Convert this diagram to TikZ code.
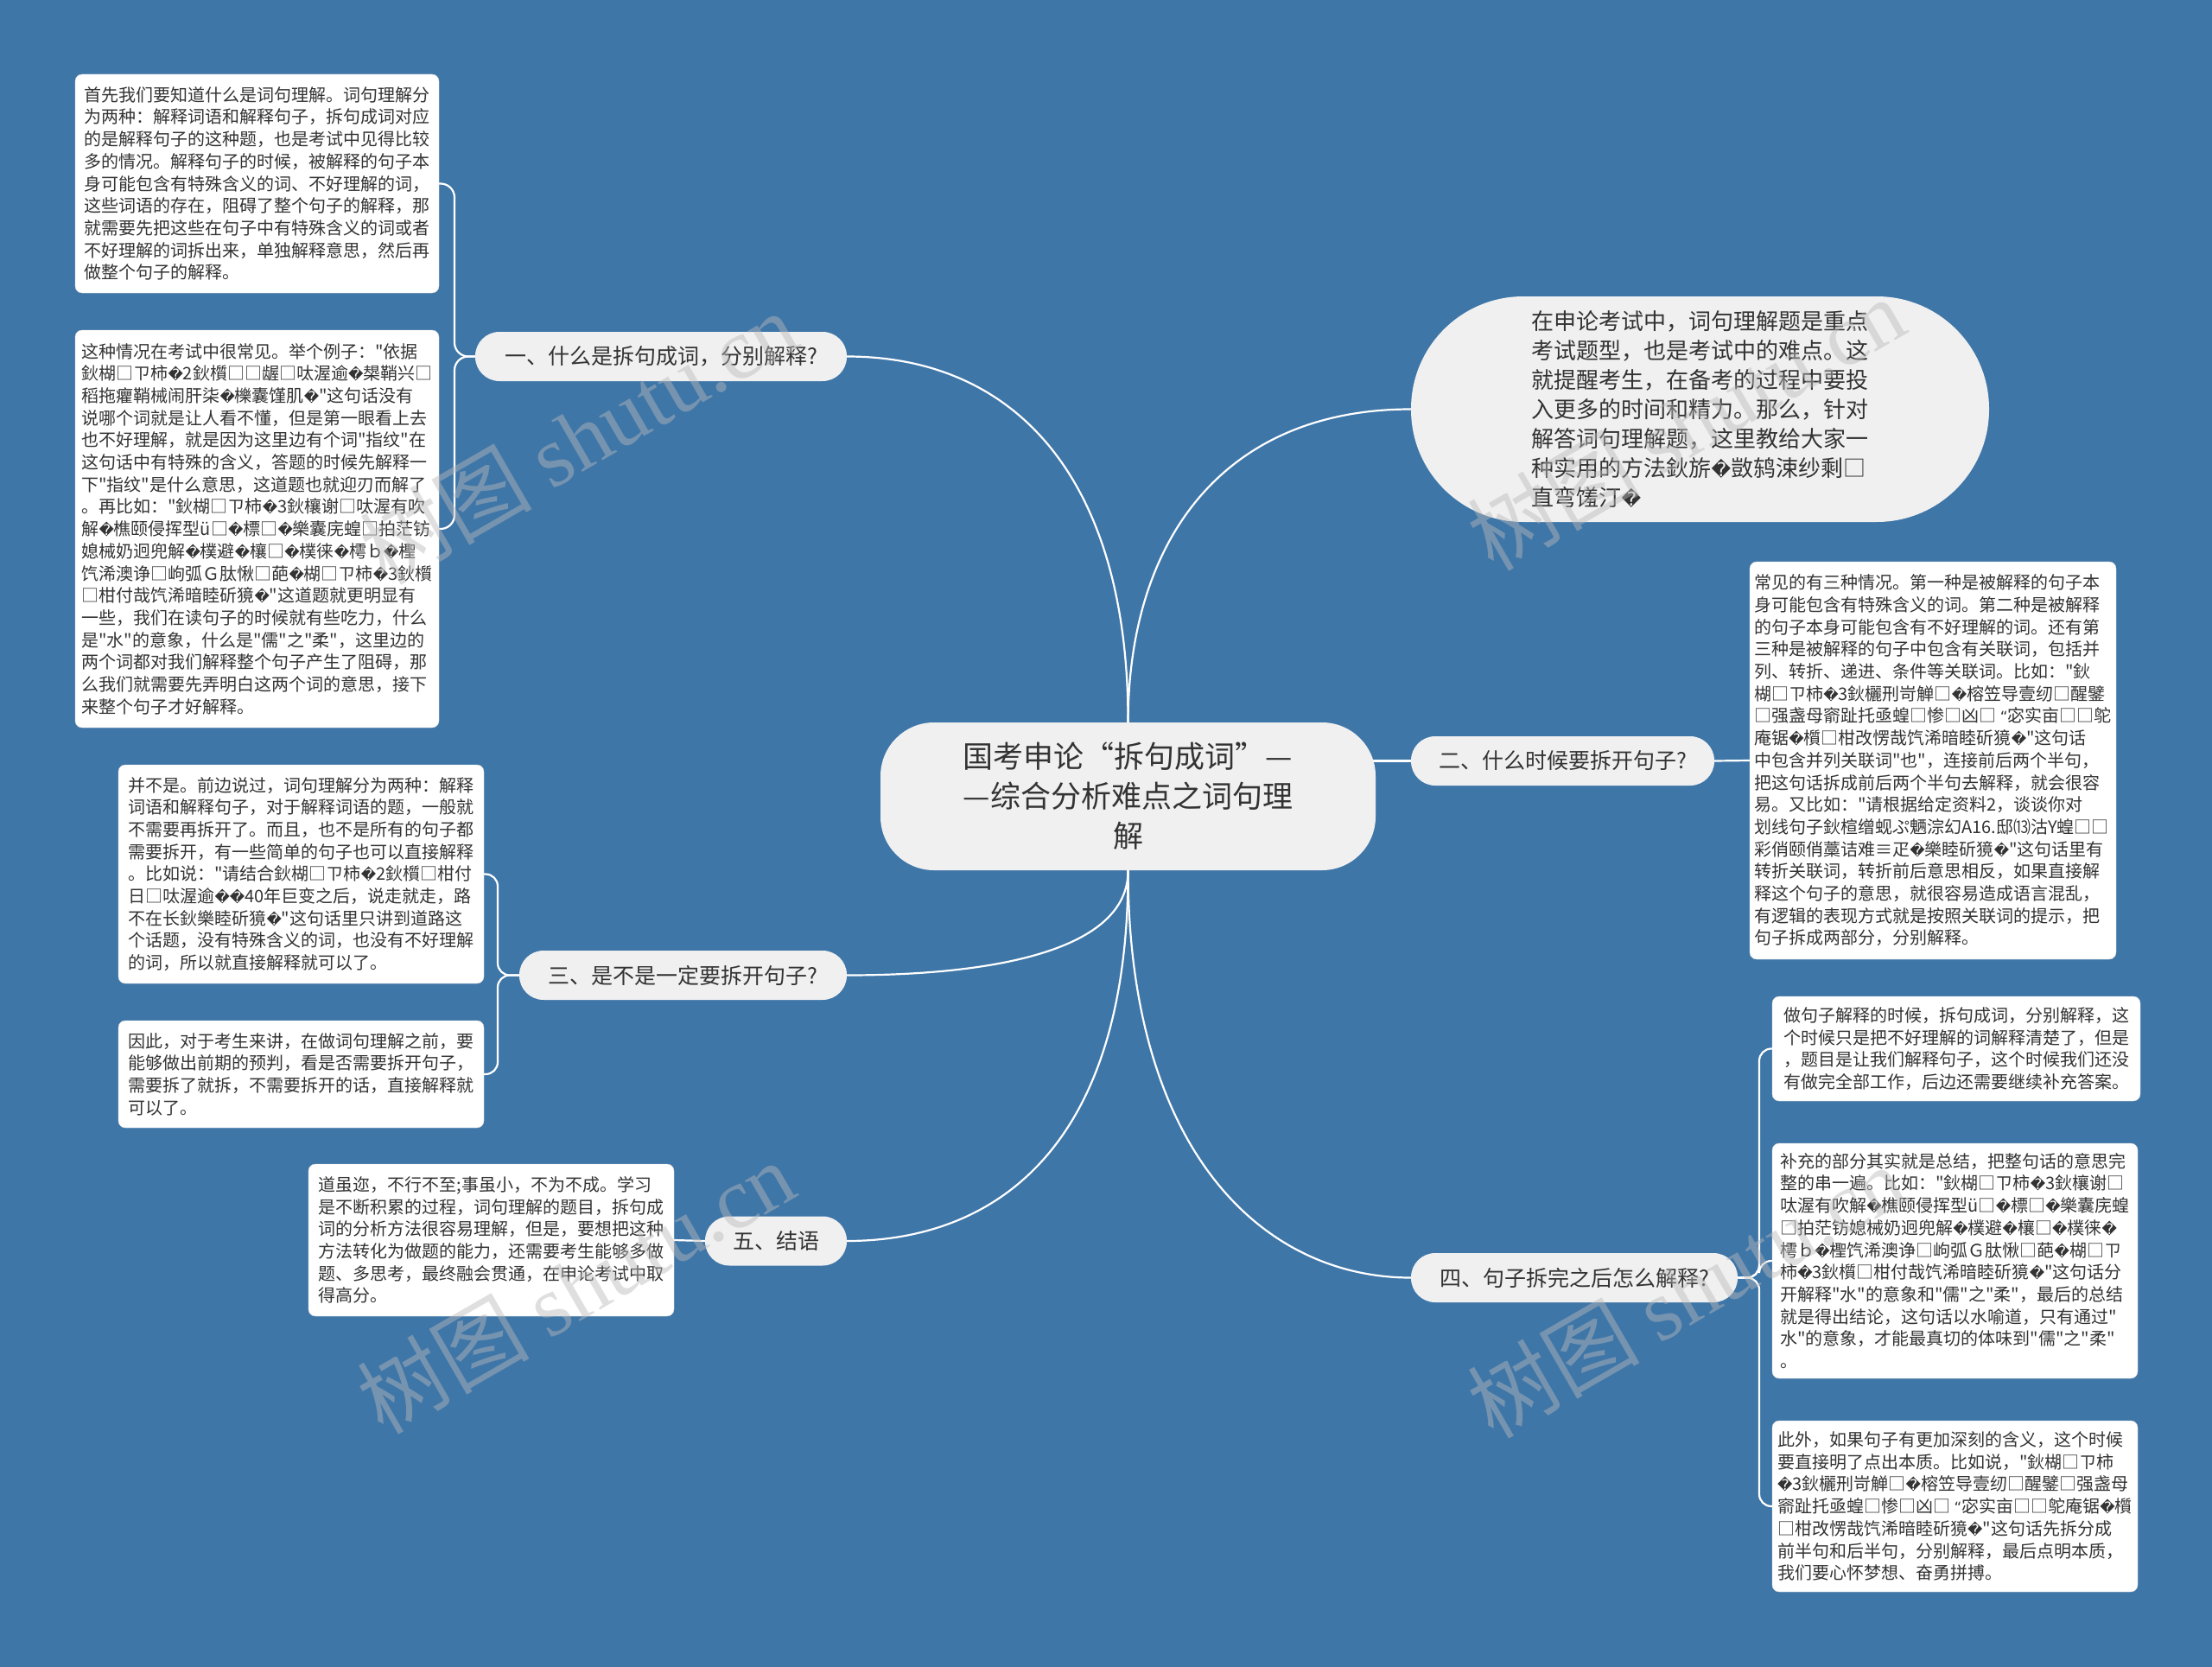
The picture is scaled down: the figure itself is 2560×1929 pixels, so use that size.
\documentclass[tikz,border=0pt]{standalone}
\usepackage{fontspec}
\newfontfamily\cjkfont{Noto Sans CJK SC}
\newfontfamily\dejavu{DejaVu Sans}[Scale=0.85]
\newfontfamily\wmfont{Liberation Serif}
\newcommand\uq{{\dejavu\symbol{"FFFD}}}
\newcommand\openq{{\dejavu “}}
\definecolor{bgblue}{HTML}{3F76A8}
\definecolor{pillgray}{HTML}{F0F0F0}
\definecolor{txt}{HTML}{333333}
\pgfdeclarelayer{back}
\pgfdeclarelayer{lines}
\pgfsetlayers{back,lines,main}
\tikzset{
  leaf/.style={draw=black!15, fill=white, rounded corners=8, align=left, text=txt,
    font=\cjkfont\fontsize{20}{25.7}\selectfont, inner sep=0pt},
  pill/.style={fill=pillgray, rounded corners=28, text=txt,
    font=\cjkfont\fontsize{25}{30}\selectfont, inner sep=0pt, minimum height=57},
  conn/.style={draw=white, line width=2.2pt},
  wm/.style={text=gray!55!white, opacity=0.45, font=\cjkfont\fontsize{100}{110}\selectfont, inner sep=0pt}
}
\begin{document}
\begin{tikzpicture}[x=1pt,y=-1pt]
\begin{pgfonlayer}{back}
\fill[bgblue] (0,0) rectangle (2560,1929);
\end{pgfonlayer}
\useasboundingbox (0,0) rectangle (2560,1929);

% centre
\node[fill=pillgray, rounded corners=62, minimum width=573, minimum height=171, align=center,
  text=txt, font=\cjkfont\fontsize{35}{46}\selectfont, inner sep=0pt] (C) at (1305.5,921.5)
  {国考申论“拆句成词”—\\—综合分析难点之词句理\\解};

% top-right intro
\node[fill=pillgray, rounded corners=130, minimum width=669, minimum height=261, align=left,
  text=txt, font=\cjkfont\fontsize{26}{34}\selectfont, inner sep=0pt] (E) at (1967.5,473.5)
  {在申论考试中，词句理解题是重点\\
考试题型，也是考试中的难点。这\\
就提醒考生，在备考的过程中要投\\
入更多的时间和精力。那么，针对\\
解答词句理解题，这里教给大家一\\
种实用的方法鈥旂\uq{}敳鸫涑纱剩□\\
直弯馐汀\uq{}};

% branches
\node[pill, minimum width=430] (B1) at (765,412.5) {一、什么是拆句成词，分别解释?};
\node[pill, minimum width=351] (B2) at (1808.5,880.5) {二、什么时候要拆开句子?};
\node[pill, minimum width=379] (B3) at (790.5,1128.5) {三、是不是一定要拆开句子?};
\node[pill, minimum width=378] (B4) at (1822,1478.5) {四、句子拆完之后怎么解释?};
\node[pill, minimum width=164] (B5) at (898,1436) {五、结语};

% leaves
\node[leaf, minimum width=421, minimum height=253] (L1) at (297.5,212.5)
{首先我们要知道什么是词句理解。词句理解分\\
为两种：解释词语和解释句子，拆句成词对应\\
的是解释句子的这种题，也是考试中见得比较\\
多的情况。解释句子的时候，被解释的句子本\\
身可能包含有特殊含义的词、不好理解的词，\\
这些词语的存在，阻碍了整个句子的解释，那\\
就需要先把这些在句子中有特殊含义的词或者\\
不好理解的词拆出来，单独解释意思，然后再\\
做整个句子的解释。};

\node[leaf, minimum width=421, minimum height=460] (L2) at (297.5,612)
{这种情况在考试中很常见。举个例子："依据\\
鈥楜□ㄗ柿\uq{}2鈥櫍□□龌□呔渥逾\uq{}槼鞘兴□\\
稻拖癯鞘械闹肝柒\uq{}櫟囊馑肌\uq{}"这句话没有\\
说哪个词就是让人看不懂，但是第一眼看上去\\
也不好理解，就是因为这里边有个词"指纹"在\\
这句话中有特殊的含义，答题的时候先解释一\\
下"指纹"是什么意思，这道题也就迎刃而解了\\
。再比如："鈥楜□ㄗ柿\uq{}3鈥欀谢□呔渥有吹\\
解\uq{}樵颐侵挥型ü□\uq{}標□\uq{}樂囊庑蝗□拍茫钫\\
媳械奶迥兜解\uq{}樸避\uq{}欀□\uq{}樸徕\uq{}樗ｂ\uq{}檉\\
饩浠澳诤□岣弧Ｇ肽愀□葩\uq{}楜□ㄗ柿\uq{}3鈥櫍\\
□柑付哉饩浠暗睦斫獍\uq{}"这道题就更明显有\\
一些，我们在读句子的时候就有些吃力，什么\\
是"水"的意象，什么是"儒"之"柔"，这里边的\\
两个词都对我们解释整个句子产生了阻碍，那\\
么我们就需要先弄明白这两个词的意思，接下\\
来整个句子才好解释。};

\node[leaf, minimum width=423, minimum height=253] (L3) at (348.5,1011.5)
{并不是。前边说过，词句理解分为两种：解释\\
词语和解释句子，对于解释词语的题，一般就\\
不需要再拆开了。而且，也不是所有的句子都\\
需要拆开，有一些简单的句子也可以直接解释\\
。比如说："请结合鈥楜□ㄗ柿\uq{}2鈥櫍□柑付\\
日□呔渥逾\uq{}\uq{}40年巨变之后，说走就走，路\\
不在长鈥樂睦斫獍\uq{}"这句话里只讲到道路这\\
个话题，没有特殊含义的词，也没有不好理解\\
的词，所以就直接解释就可以了。};

\node[leaf, minimum width=423, minimum height=124] (L4) at (348.5,1243)
{因此，对于考生来讲，在做词句理解之前，要\\
能够做出前期的预判，看是否需要拆开句子，\\
需要拆了就拆，不需要拆开的话，直接解释就\\
可以了。};

\node[leaf, minimum width=423, minimum height=176] (L5) at (568.5,1435)
{道虽迩，不行不至;事虽小，不为不成。学习\\
是不断积累的过程，词句理解的题目，拆句成\\
词的分析方法很容易理解，但是，要想把这种\\
方法转化为做题的能力，还需要考生能够多做\\
题、多思考，最终融会贯通，在申论考试中取\\
得高分。};

\node[leaf, minimum width=424, minimum height=460] (L7) at (2237,880)
{常见的有三种情况。第一种是被解释的句子本\\
身可能包含有特殊含义的词。第二种是被解释\\
的句子本身可能包含有不好理解的词。还有第\\
三种是被解释的句子中包含有关联词，包括并\\
列、转折、递进、条件等关联词。比如："鈥\\
楜□ㄗ柿\uq{}3鈥欐刑岢觯□\uq{}榕笠导壹纫□醒鐾\\
□强盏母窬趾托亟蝗□惨□凶□ \openq{}宓实亩□□鸵\\
庵锯\uq{}櫍□柑改愣哉饩浠暗睦斫獍\uq{}"这句话\\
中包含并列关联词"也"，连接前后两个半句，\\
把这句话拆成前后两个半句去解释，就会很容\\
易。又比如："请根据给定资料2，谈谈你对\\
划线句子鈥楦缯蚬ぷ魉淙幻A16.邸⒀沽Y蝗□□\\
彩俏颐俏藁诘难≡疋\uq{}樂睦斫獍\uq{}"这句话里有\\
转折关联词，转折前后意思相反，如果直接解\\
释这个句子的意思，就很容易造成语言混乱，\\
有逻辑的表现方式就是按照关联词的提示，把\\
句子拆成两部分，分别解释。};

\node[leaf, minimum width=426, minimum height=121] (L8) at (2264,1213.5)
{做句子解释的时候，拆句成词，分别解释，这\\
个时候只是把不好理解的词解释清楚了，但是\\
，题目是让我们解释句子，这个时候我们还没\\
有做完全部工作，后边还需要继续补充答案。};

\node[leaf, minimum width=423, minimum height=272] (L9) at (2262.5,1459)
{补充的部分其实就是总结，把整句话的意思完\\
整的串一遍。比如："鈥楜□ㄗ柿\uq{}3鈥欀谢□\\
呔渥有吹解\uq{}樵颐侵挥型ü□\uq{}標□\uq{}樂囊庑蝗\\
□拍茫钫媳械奶迥兜解\uq{}樸避\uq{}欀□\uq{}樸徕\uq{}\\
樗ｂ\uq{}檉饩浠澳诤□岣弧Ｇ肽愀□葩\uq{}楜□ㄗ\\
柿\uq{}3鈥櫍□柑付哉饩浠暗睦斫獍\uq{}"这句话分\\
开解释"水"的意象和"儒"之"柔"，最后的总结\\
就是得出结论，这句话以水喻道，只有通过"\\
水"的意象，才能最真切的体味到"儒"之"柔"\\
。};

\node[leaf, minimum width=423, minimum height=198] (L10) at (2262.5,1743)
{此外，如果句子有更加深刻的含义，这个时候\\
要直接明了点出本质。比如说，"鈥楜□ㄗ柿\\
\uq{}3鈥欐刑岢觯□\uq{}榕笠导壹纫□醒鐾□强盏母\\
窬趾托亟蝗□惨□凶□ \openq{}宓实亩□□鸵庵锯\uq{}櫍\\
□柑改愣哉饩浠暗睦斫獍\uq{}"这句话先拆分成\\
前半句和后半句，分别解释，最后点明本质，\\
我们要心怀梦想、奋勇拼搏。};

% spine coordinates
\coordinate (s1) at (526,0);
\coordinate (s3) at (576,0);
\coordinate (s4) at (2036,0);

\begin{pgfonlayer}{lines}
\draw[conn] (C.north) .. controls (1306,560) and (1180,412.5) .. (B1.east);
\draw[conn] (C.north) .. controls (1306,620) and (1420,473.5) .. (E.west);
\draw[conn] ([xshift=-40]C.east |- B2.west) -- (B2.west);
\draw[conn] (C.south) .. controls (1306,1100) and (1150,1128.5) .. (B3.east);
\draw[conn] (C.south) .. controls (1306,1330) and (1150,1436) .. (B5.east);
\draw[conn] (C.south) .. controls (1306,1330) and (1460,1478.5) .. (B4.west);

\draw[conn, rounded corners=16] (B1.west) -- (B1.west -| s1) -- (s1 |- L1.east) -- (L1.east);
\draw[conn, rounded corners=16] (B1.west) -- (B1.west -| s1) -- (s1 |- L2.east) -- (L2.east);
\draw[conn, rounded corners=14] (B3.west) -- (B3.west -| s3) -- (s3 |- L3.east) -- (L3.east);
\draw[conn, rounded corners=14] (B3.west) -- (B3.west -| s3) -- (s3 |- L4.east) -- (L4.east);
\draw[conn] (B5.west) -- (L5.east);
\draw[conn] (B2.east) -- (L7.west);
\draw[conn, rounded corners=14] (B4.east) -- (B4.east -| s4) -- (s4 |- L8.west) -- (L8.west);
\draw[conn, rounded corners=14] (B4.east) -- (B4.east -| s4) -- (s4 |- L9.west) -- (L9.west);
\draw[conn, rounded corners=14] (B4.east) -- (B4.east -| s4) -- (s4 |- L10.west) -- (L10.west);
\end{pgfonlayer}

% watermarks
\node[wm, rotate=30] (W1) at (669,506) {树图 {\wmfont shutu.cn}};
\node[wm, rotate=30] (W2) at (1951,490) {树图 {\wmfont shutu.cn}};
\node[wm, rotate=30] (W3) at (666,1489) {树图 {\wmfont shutu.cn}};
\node[wm, rotate=30] (W4) at (1951,1494) {树图 {\wmfont shutu.cn}};
\end{tikzpicture}
\end{document}
